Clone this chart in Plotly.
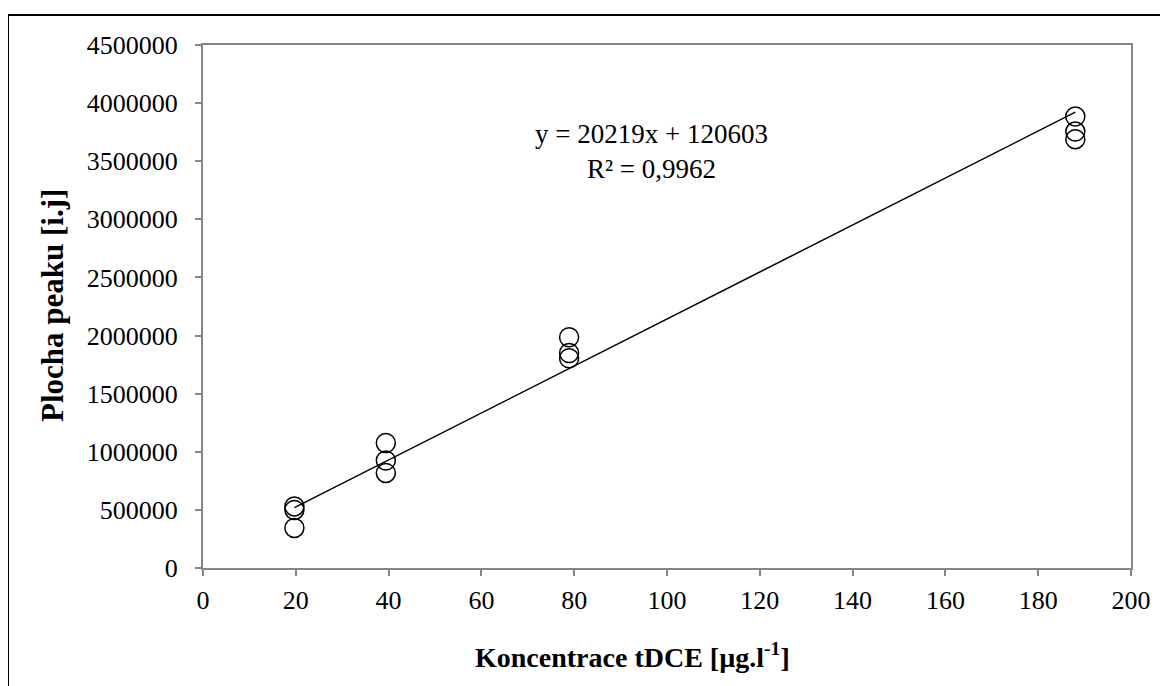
import plotly.graph_objects as go

# data
x_conc = [19.7, 19.7, 19.7, 39.4, 39.4, 39.4, 78.9, 78.9, 78.9, 188.0, 188.0, 188.0]
y_area = [530000, 500000, 345000, 1075000, 925000, 818000, 1985000, 1850000, 1805000, 3885000, 3755000, 3690000]
slope = 20219
intercept = 120603
r2_text = "0,9962"
x_ticks = [0, 20, 40, 60, 80, 100, 120, 140, 160, 180, 200]
y_ticks = [0, 500000, 1000000, 1500000, 2000000, 2500000, 3000000, 3500000, 4000000, 4500000]

x_line = [min(x_conc), max(x_conc)]
y_line = [slope * v + intercept for v in x_line]

W, H = 1168, 686
OFF = 8  # page body margin
# target plot area in screenshot pixels: x 203..1131, y 45..568
L, T = 203 - OFF, 45 - OFF
R = W - (1131 - OFF)
B = H - (568 - OFF)
pw, ph = W - L - R, H - T - B
PX0, PY0 = 203, 45  # screen coords of plot area top-left


def px(xs):
    return (xs - PX0) / pw


def py(ys):
    return 1 - (ys - PY0) / ph


fig = go.Figure()
fig.add_trace(go.Scatter(x=x_line, y=y_line, mode="lines",
                         line=dict(color="black", width=1.5), showlegend=False, hoverinfo="skip"))
fig.add_trace(go.Scatter(x=x_conc, y=y_area, mode="markers",
                         marker=dict(symbol="circle-open", size=19, color="black", line=dict(width=1.5)),
                         showlegend=False))

font = "Liberation Serif, Times New Roman, serif"
axis_common = dict(showgrid=False, zeroline=False, showline=True, mirror=True,
                   linecolor="#868686", linewidth=2, ticks="outside", ticklen=6,
                   tickcolor="#868686", tickwidth=2,
                   tickfont=dict(family=font, size=26, color="black"))
fig.update_xaxes(range=[0, 200], tickvals=x_ticks, ticktext=[str(v) for v in x_ticks],
                 ticklabelstandoff=2, **axis_common)
fig.update_yaxes(range=[0, 4500000], tickvals=y_ticks, ticktext=[str(v) for v in y_ticks],
                 ticklabelstandoff=12, **axis_common)

fig.add_annotation(x=px(632), y=py(655), xref="paper", yref="paper", xanchor="center", yanchor="middle",
                   text="<b>Koncentrace tDCE [µg.l<sup>-1</sup>]</b>", showarrow=False,
                   font=dict(family=font, size=28, color="black"))
fig.add_annotation(x=px(52), y=py(306), xref="paper", yref="paper", xanchor="center", yanchor="middle",
                   text="<b>Plocha peaku [i.j]</b>", showarrow=False, textangle=-90,
                   font=dict(family=font, size=31, color="black"))
fig.add_annotation(x=px(651), y=py(152), xref="paper", yref="paper", xanchor="center", yanchor="middle",
                   text=f"y = {slope}x + {intercept}<br>R² = {r2_text}", showarrow=False,
                   align="center", font=dict(family=font, size=27, color="black"))

# outer frame (left & top)
fx = px(8)
fy = py(15)
fig.add_shape(type="line", xref="paper", yref="paper", x0=fx, x1=fx, y0=fy, y1=py(H + 20),
              line=dict(color="black", width=2))
fig.add_shape(type="line", xref="paper", yref="paper", x0=fx, x1=px(W + 20), y0=fy, y1=fy,
              line=dict(color="black", width=2))

fig.update_layout(width=W, height=H, margin=dict(l=L, r=R, t=T, b=B),
                  plot_bgcolor="white", paper_bgcolor="white")
fig.write_html("out.html")
